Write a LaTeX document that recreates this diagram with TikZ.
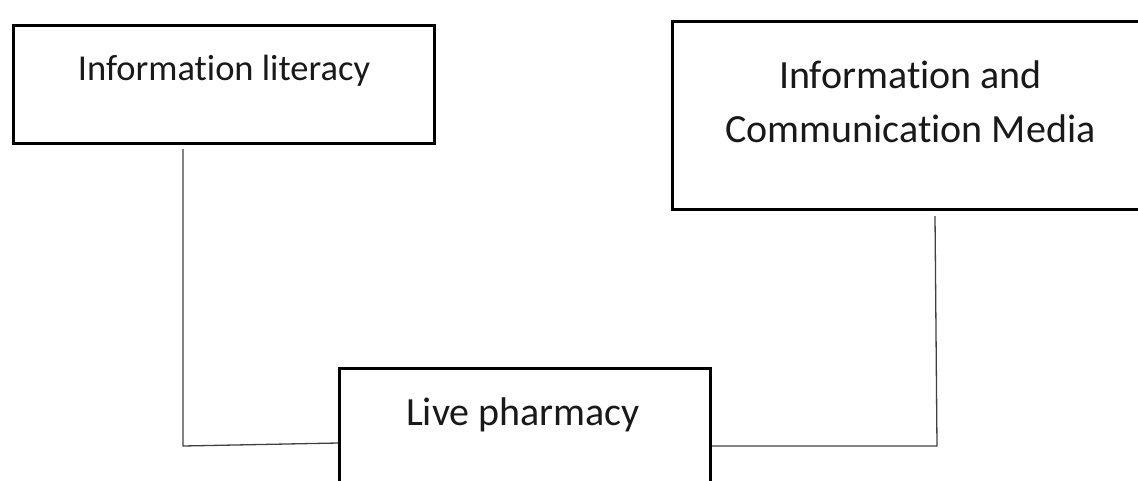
\documentclass[tikz,border=0pt]{standalone}
\usepackage{fontspec}
\setmainfont[Ligatures={NoCommon}]{Carlito}
\usetikzlibrary{positioning}

\begin{document}
\begin{tikzpicture}[x=1pt,y=-1pt,
  box/.style={draw,line width=3pt,rectangle,anchor=north west,inner sep=0pt},
  lbl/.style={inner sep=0pt,align=center,text=black!90},
  link/.style={draw=black!75,line width=1.3pt}]

\useasboundingbox (0,0) rectangle (1138,480);

% the three boxes
\node[box,minimum width=421pt,minimum height=118pt] (lit) at (12,24) {};
\node[box,minimum width=476pt,minimum height=188pt] (media) at (671,20) {};
\node[box,minimum width=371pt,minimum height=118pt] (pharm) at (338,367) {};

% their texts
\node[lbl,anchor=base,font=\fontsize{36.5}{43}\selectfont] (litText)
	at ([yshift=-56pt]lit.north) {Information literacy};
\node[lbl,anchor=north,font=\fontsize{40}{54}\selectfont] (mediaText)
	at ([yshift=-41pt]media.north) {Information and\\Communication Media};
\node[lbl,anchor=base,font=\fontsize{40}{48}\selectfont] (pharmText)
	at ([xshift=-2pt,yshift=-58pt]pharm.north) {Live pharmacy};

% connectors
\coordinate (litFoot) at (183,446);
\coordinate (mediaFoot) at (937,446);
\draw[link] ([xshift=171pt,yshift=-4pt]lit.south west) -- (litFoot)
	-- ([yshift=-76pt]pharm.north west);
\draw[link] ([xshift=264pt,yshift=-5pt]media.south west) -- (mediaFoot)
	-- ([yshift=-79pt]pharm.north east);

\end{tikzpicture}
\end{document}
